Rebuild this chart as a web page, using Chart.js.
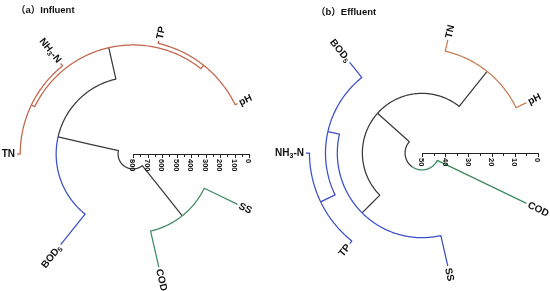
<!DOCTYPE html>
<html><head><meta charset="utf-8">
<script src="https://cdn.jsdelivr.net/npm/chart.js@4.4.1/dist/chart.umd.min.js"></script>
<style>
html,body{margin:0;padding:0;background:#fff;}
.wrap{position:absolute;top:0;width:275px;height:291px;}
.title{position:absolute;top:2px;font:bold 9.5px "Liberation Sans","Noto Sans CJK SC",Arial,sans-serif;color:#111;white-space:nowrap;}
</style>
</head><body>
<div class="wrap" style="left:0"><canvas id="c1" width="275" height="291"></canvas></div>
<div class="wrap" style="left:275px"><canvas id="c2" width="275" height="291"></canvas></div>
<div class="title" style="left:16px">（a）Influent</div>
<div class="title" style="left:316px;top:4px">（b）Effluent</div>
<script>
// ---------- data ----------
// leaves in circular order (counter-clockwise from the axis)
const influentLeaves = ['pH', 'TP', 'NH₃-N', 'TN', 'BOD₅', 'COD', 'SS'];
// merges: [childA, childB, height]; leaves are 0..6, merged nodes numbered from 7
const influentMerges = [[0, 1, 18], [2, 3, 22], [7, 8, 48], [9, 4, 270], [5, 6, 255], [10, 11, 697]];
const influentTicks = [800, 700, 600, 500, 400, 300, 200, 100, 0];
// cluster of the branch above each node (r/b/g = coloured cluster, k = above clusters)
const influentGroups = ['r', 'r', 'r', 'r', 'b', 'g', 'g', 'r', 'r', 'k', 'k', 'k'];

const effluentLeaves = ['pH', 'TN', 'BOD₅', 'NH₃-N', 'TP', 'SS', 'COD'];
const effluentMerges = [[0, 1, 5], [3, 4, 1.5], [2, 8, 8.4], [9, 5, 13.5], [7, 10, 24.3], [11, 6, 42.7]];
const effluentTicks = [50, 40, 30, 20, 10, 0];
const effluentGroups = ['r', 'r', 'b', 'b', 'b', 'b', 'g', 'k', 'b', 'b', 'k', 'k'];

// ---------- styles / layout ----------
const COLORS = {
  c1: { r: '#c2634a', b: '#3a4fc8', g: '#3c8a62', k: '#3a3a3a' },
  c2: { r: '#c47c52', b: '#3a4fc8', g: '#3c8a62', k: '#3a3a3a' }
};
const LAYOUT = { c1: { cx: 133, cy: 154 }, c2: { cx: 147, cy: 153 }, R: 116, W: 275, H: 291 };

function buildTree(leaves, merges) {
  const n = leaves.length;
  const nodes = leaves.map((name, i) => ({ name, angle: (i + 0.5) * 360 / n, h: 0, leaf: true }));
  merges.forEach(([a, b, h]) => {
    const idx = nodes.length;
    nodes[a].parent = idx; nodes[b].parent = idx;
    nodes.push({ angle: (nodes[a].angle + nodes[b].angle) / 2, h, leaf: false });
  });
  return nodes;
}

function polar(r, deg) {
  const a = deg * Math.PI / 180;
  return { x: r * Math.cos(a), y: r * Math.sin(a) };
}

function edgeDatasets(nodes, groups, maxH, colors) {
  const sets = [];
  nodes.forEach((nd, i) => {
    if (nd.parent === undefined) return;
    const p = nodes[nd.parent];
    const r0 = 1 - nd.h / maxH, r1 = 1 - p.h / maxH;
    const pts = [polar(r0, nd.angle), polar(r1, nd.angle)];
    const steps = Math.max(2, Math.ceil(Math.abs(p.angle - nd.angle) / 1));
    for (let s = 1; s <= steps; s++) {
      pts.push(polar(r1, nd.angle + (p.angle - nd.angle) * s / steps));
    }
    sets.push({
      data: pts, showLine: true, pointRadius: 0, borderWidth: 1.25,
      borderColor: colors[groups[i]], tension: 0.000001, fill: false,
      borderJoinStyle: 'round', borderCapStyle: 'butt'
    });
  });
  return sets;
}

function drawRich(ctx, text, size) {
  // measures text with unicode subscript digits rendered as lowered small digits
  const subs = '₀₁₂₃₄₅₆₇₈₉';
  const parts = [];
  for (const ch of text) {
    const k = subs.indexOf(ch);
    if (k >= 0) parts.push({ t: String(k), sub: true }); else parts.push({ t: ch, sub: false });
  }
  const fontN = `bold ${size}px "Liberation Sans", Arial, sans-serif`;
  const fontS = `bold ${Math.round(size * 0.65)}px "Liberation Sans", Arial, sans-serif`;
  let total = 0;
  parts.forEach(p => { ctx.font = p.sub ? fontS : fontN; p.w = ctx.measureText(p.t).width; total += p.w; });
  return { parts, total, fontN, fontS };
}

const dendroPlugin = {
  id: 'dendro',
  afterDatasetsDraw(chart, args, o) {
    const { ctx } = chart;
    const xs = chart.scales.x, ys = chart.scales.y;
    const px = (r, deg) => { const p = polar(r, deg); return [xs.getPixelForValue(p.x), ys.getPixelForValue(p.y)]; };
    ctx.save();
    // radial axis along angle 0
    const [ax0, ay] = px(0, 0);
    const [ax1] = px(1, 0);
    ctx.strokeStyle = '#222'; ctx.lineWidth = 1;
    ctx.beginPath(); ctx.moveTo(ax0, ay + 0.5); ctx.lineTo(ax1, ay + 0.5); ctx.stroke();
    const ticks = o.ticks;
    const step = ticks[0] - ticks[1];
    ctx.fillStyle = '#111';
    ticks.forEach((t, i) => {
      const tx = xs.getPixelForValue(1 - t / o.maxH);
      ctx.beginPath(); ctx.moveTo(Math.round(tx) + 0.5, ay); ctx.lineTo(Math.round(tx) + 0.5, ay + 4); ctx.stroke();
      if (i < ticks.length - 1) {
        const mx = xs.getPixelForValue(1 - (t - step / 2) / o.maxH);
        ctx.beginPath(); ctx.moveTo(Math.round(mx) + 0.5, ay + 0.5); ctx.lineTo(Math.round(mx) + 0.5, ay + 3); ctx.stroke();
      }
      ctx.save();
      ctx.translate(tx, ay + 5);
      ctx.rotate(Math.PI / 2);
      ctx.font = 'bold 7.5px "Liberation Sans", Arial, sans-serif';
      ctx.textAlign = 'left'; ctx.textBaseline = 'middle';
      ctx.fillText(String(t), 0, 0.5);
      ctx.restore();
    });
    // leaf labels
    o.nodes.forEach(nd => {
      if (!nd.leaf) return;
      const [lx, ly] = px(1 + 2 / LAYOUT.R, nd.angle);
      const right = Math.cos(nd.angle * Math.PI / 180) >= 0;
      const rot = right ? -nd.angle : 180 - nd.angle;
      const m = drawRich(ctx, nd.name, 10);
      ctx.save();
      ctx.translate(lx, ly);
      ctx.rotate(rot * Math.PI / 180);
      ctx.textBaseline = 'middle'; ctx.textAlign = 'left';
      let cur = right ? 0 : -m.total;
      m.parts.forEach(p => {
        ctx.font = p.sub ? m.fontS : m.fontN;
        ctx.fillText(p.t, cur, p.sub ? 3 : 0.5);
        cur += p.w;
      });
      ctx.restore();
    });
    ctx.restore();
  }
};

function makeChart(id, leaves, merges, ticks, groups) {
  const maxH = ticks[0];
  const nodes = buildTree(leaves, merges);
  const L = LAYOUT[id], R = LAYOUT.R;
  new Chart(document.getElementById(id), {
    type: 'scatter',
    data: { datasets: edgeDatasets(nodes, groups, maxH, COLORS[id]) },
    options: {
      responsive: false, animation: false, devicePixelRatio: 1,
      layout: { padding: 0 },
      plugins: { legend: { display: false }, tooltip: { enabled: false },
        dendro: { nodes, ticks, maxH } },
      scales: {
        x: { type: 'linear', display: false, min: -L.cx / R, max: (LAYOUT.W - L.cx) / R },
        y: { type: 'linear', display: false, min: -(LAYOUT.H - L.cy) / R, max: L.cy / R }
      }
    },
    plugins: [dendroPlugin]
  });
}

makeChart('c1', influentLeaves, influentMerges, influentTicks, influentGroups);
makeChart('c2', effluentLeaves, effluentMerges, effluentTicks, effluentGroups);
</script>
</body></html>
